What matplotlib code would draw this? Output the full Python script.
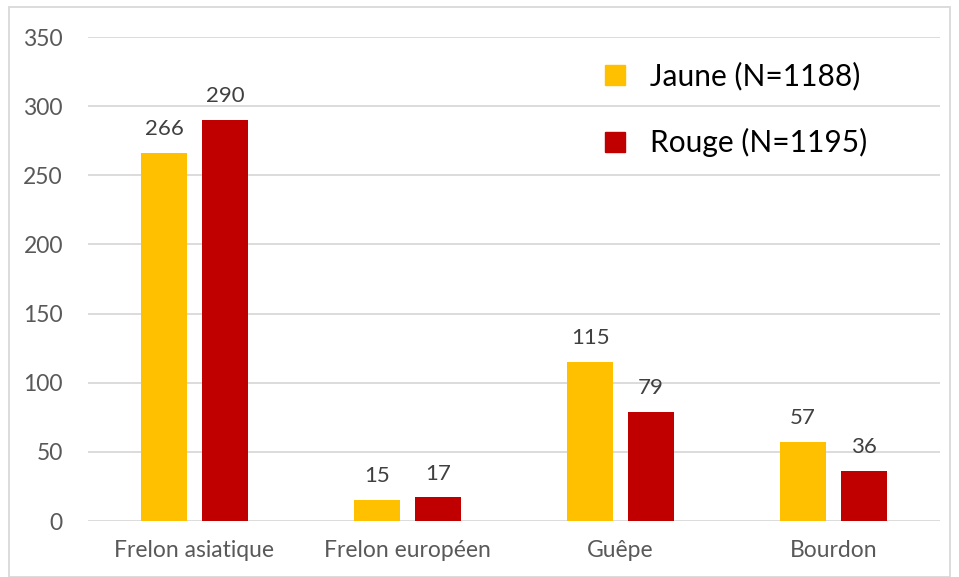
import matplotlib
matplotlib.use("Agg")
import matplotlib.pyplot as plt
from matplotlib.lines import Line2D
from matplotlib.patches import Rectangle
import numpy as np

categories = ["Frelon asiatique", "Frelon européen", "Guêpe", "Bourdon"]
jaune = [266, 15, 115, 57]
rouge = [290, 17, 79, 36]
labels = ["Jaune (N=1188)", "Rouge (N=1195)"]
yticks = [0, 50, 100, 150, 200, 250, 300, 350]

plt.rcParams['font.family'] = ['Lato', 'DejaVu Sans']

fig = plt.figure(figsize=(9.59, 5.77), dpi=100)
ax = fig.add_axes([88/959, 1-521/577, (940-88)/959, (521-37)/577])

c_j = "#FFC000"
c_r = "#C00000"
x = np.arange(len(categories))
w = 0.22
off = 0.143
b1 = ax.bar(x - off, jaune, w, color=c_j, zorder=3)
b2 = ax.bar(x + off, rouge, w, color=c_r, zorder=3)

for bars, vals in ((b1, jaune), (b2, rouge)):
    for b, v in zip(bars, vals):
        ax.annotate(str(v), (b.get_x() + b.get_width()/2, v), xytext=(0, 10),
                    textcoords="offset points", ha="center", va="bottom",
                    fontsize=16, color="#404040")

ax.set_xlim(-0.5, 3.5)
ax.set_ylim(0, 350)
ax.set_yticks(yticks)
ax.set_xticks(x)
ax.set_xticklabels(categories)
ax.tick_params(axis='both', length=0, labelsize=16.5, colors="#595959")
ax.tick_params(axis='x', pad=14)
ax.tick_params(axis='y', pad=18)
ax.grid(axis='y', color="#D9D9D9", linewidth=1.3, zorder=0)
for s in ax.spines.values():
    s.set_visible(False)

handles = [Line2D([], [], marker='s', linestyle='none', markersize=14, color=c_j),
           Line2D([], [], marker='s', linestyle='none', markersize=14, color=c_r)]
ax.legend(handles, labels, loc="upper left", bbox_to_anchor=(0.583, 0.973),
          frameon=False, fontsize=21.5, labelspacing=1.25, handletextpad=0.6,
          handlelength=1.2, borderaxespad=0)

fig.add_artist(Rectangle((9/959, 0.0), 941/959, 1-7/577, transform=fig.transFigure,
                         fill=False, edgecolor="#D9D9D9", linewidth=1.3))

fig.savefig("out.png", dpi=100)
